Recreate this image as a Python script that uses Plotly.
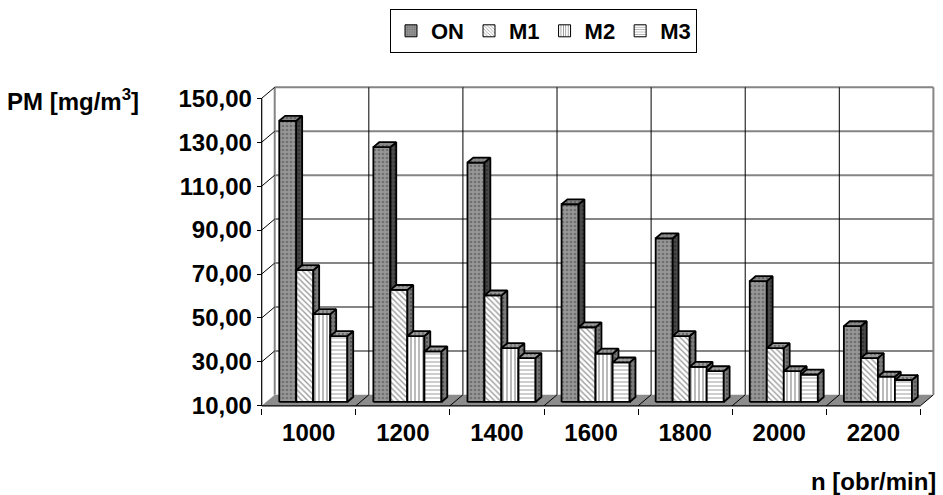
import plotly.graph_objects as go

# ---------------- data ----------------
categories = ["1000", "1200", "1400", "1600", "1800", "2000", "2200"]
series_names = ["ON", "M1", "M2", "M3"]
on_vals = [138, 126, 119, 100, 84.5, 65, 44.5]
m1_vals = [70, 61, 58.5, 44, 40, 34.5, 30]
m2_vals = [50, 40, 34.5, 32, 26, 24, 21.5]
m3_vals = [40, 33, 30, 28, 24, 22.5, 20]
y_ticks = [10, 30, 50, 70, 90, 110, 130, 150]
y_title = "PM [mg/m<sup>3</sup>]"
x_title = "n [obr/min]"

all_vals = [on_vals, m1_vals, m2_vals, m3_vals]

# ---------------- geometry / style ----------------
W, H = 943, 495
PX_X = 94.0        # px per category
PX_Y = 2.2         # px per y unit
X0_PX, Y10_PX = 262.0, 406.0
x_pad_l, x_pad_r = 0.05, 0.07
y_min, y_max = 9.0, 156.5
n = len(categories)
ymin_axis = y_ticks[0]
ymax_axis = y_ticks[-1]
dxw = 13.0 / PX_X          # wall depth in x units
dyw = 11.0 / PX_Y          # wall depth in y units
bw = 17.0 / PX_X           # bar width
f_front, f_depth = 0.35, 0.45
ddx, ddy = f_front * dxw, f_front * dyw
sdx, sdy = f_depth * dxw, f_depth * dyw

x_lo, x_hi = -x_pad_l, n + dxw + x_pad_r
L = X0_PX - x_pad_l * PX_X
R = X0_PX + (n + dxw + x_pad_r) * PX_X
B = Y10_PX + (ymin_axis - y_min) * PX_Y
T = Y10_PX - (y_max - ymin_axis) * PX_Y

FONT = "Liberation Sans, Arial, sans-serif"
OUT = 1.8
FS = 24

styles = {
    "ON": dict(front=dict(shape=".", bgcolor="#979797", fgcolor="#4a4a4a", size=4, solidity=0.35),
               side=dict(shape=".", bgcolor="#4a4a4a", fgcolor="#202020", size=4, solidity=0.35),
               top=dict(shape=".", bgcolor="#8a8a8a", fgcolor="#404040", size=4, solidity=0.35)),
    "M1": dict(front=dict(shape="\\", bgcolor="#ffffff", fgcolor="#3a3a3a", size=4, solidity=0.35),
               side=dict(shape=".", bgcolor="#7a7a7a", fgcolor="#303030", size=4, solidity=0.35),
               top=dict(shape=".", bgcolor="#9a9a9a", fgcolor="#404040", size=4, solidity=0.35)),
    "M2": dict(front=dict(shape="|", bgcolor="#ffffff", fgcolor="#1a1a1a", size=4, solidity=0.3),
               side=dict(shape=".", bgcolor="#7a7a7a", fgcolor="#303030", size=4, solidity=0.35),
               top=dict(shape="|", bgcolor="#9a9a9a", fgcolor="#404040", size=4, solidity=0.35)),
    "M3": dict(front=dict(shape="-", bgcolor="#ffffff", fgcolor="#5a5a5a", size=4, solidity=0.3),
               side=dict(shape=".", bgcolor="#7a7a7a", fgcolor="#303030", size=4, solidity=0.35),
               top=dict(shape=".", bgcolor="#a0a0a0", fgcolor="#404040", size=4, solidity=0.35)),
}

fig = go.Figure()


def seg_trace(xs, ys, color, width):
    fig.add_trace(go.Scatter(x=xs, y=ys, mode="lines", line=dict(color=color, width=width),
                             hoverinfo="skip", showlegend=False))


# floor
fig.add_trace(go.Scatter(x=[0, n, n + dxw, dxw, 0], y=[ymin_axis, ymin_axis, ymin_axis + dyw, ymin_axis + dyw, ymin_axis],
                         fill="toself", fillcolor="#8c8c8c", mode="lines", line=dict(width=0),
                         hoverinfo="skip", showlegend=False))

# back wall horizontal gridlines (gray)
gx, gy = [], []
for v in y_ticks[1:]:
    gx += [dxw, n + dxw, None]
    gy += [v + dyw, v + dyw, None]
seg_trace(gx, gy, "#858585", 2)

# back wall vertical gridlines (black)
vx, vy = [], []
for k in range(1, n):
    vx += [k + dxw, k + dxw, None]
    vy += [ymin_axis + dyw, ymax_axis + dyw, None]
seg_trace(vx, vy, "#000000", 1)

# wall edges (gray)
seg_trace([dxw, dxw, None, n + dxw, n + dxw],
          [ymin_axis + dyw, ymax_axis + dyw, None, ymin_axis + dyw, ymax_axis + dyw], "#858585", 2)

# diagonal connectors for y ticks and floor boundaries (black)
dx_, dy_ = [], []
for v in y_ticks[1:]:
    dx_ += [0, dxw, None]
    dy_ += [v, v + dyw, None]
for k in range(1, n + 1):
    dx_ += [k, k + dxw, None]
    dy_ += [ymin_axis, ymin_axis + dyw, None]
seg_trace(dx_, dy_, "#000000", 1)

# front axis lines
seg_trace([0, 0, None, 0, n], [ymax_axis, ymin_axis, None, ymin_axis, ymin_axis], "#000000", 1.2)

# bars (front, side, top) drawn per series in order
for j, (name, vals) in enumerate(zip(series_names, all_vals)):
    fx, fy, sx, sy, tx, ty = [], [], [], [], [], []
    for k, v in enumerate(vals):
        xl = k + 0.5 - 2 * bw + j * bw + ddx
        xr = xl + bw
        yb = ymin_axis + ddy
        yt = v + ddy
        fx += [xl, xr, xr, xl, xl, None]
        fy += [yb, yb, yt, yt, yb, None]
        sx += [xr, xr + sdx, xr + sdx, xr, xr, None]
        sy += [yb, yb + sdy, yt + sdy, yt, yb, None]
        tx += [xl, xr, xr + sdx, xl + sdx, xl, None]
        ty += [yt, yt, yt + sdy, yt + sdy, yt, None]
    st = styles[name]
    for xs, ys, key in ((fx, fy, "front"), (sx, sy, "side"), (tx, ty, "top")):
        pat = st[key]
        fig.add_trace(go.Scatter(x=xs, y=ys, mode="lines", fill="toself",
                                 fillcolor=pat["bgcolor"],
                                 fillpattern=dict(shape=pat["shape"], bgcolor=pat["bgcolor"],
                                                  fgcolor=pat["fgcolor"], size=pat["size"],
                                                  solidity=pat["solidity"]),
                                 line=dict(color="#000000", width=OUT),
                                 hoverinfo="skip", showlegend=False))

# legend-only bar traces
for name in series_names:
    pat = styles[name]["front"]
    fig.add_trace(go.Bar(x=[None], y=[None], name=name,
                         marker=dict(color=pat["bgcolor"], line=dict(color="#000000", width=1),
                                     pattern=dict(shape=pat["shape"], bgcolor=pat["bgcolor"],
                                                  fgcolor=pat["fgcolor"], size=3, solidity=0.35))))

pw = R - L
ph = B - T


def px_to_paper_x(px):
    return (px - L) / pw


def px_to_paper_y(py):
    return (B - py) / ph


fig.update_layout(
    width=W, height=H,
    margin=dict(l=L, r=W - R, t=T, b=H - B, pad=0),
    paper_bgcolor="white", plot_bgcolor="white",
    font=dict(family=FONT, size=FS, color="black", weight="bold"),
    separators=", ",
    showlegend=True,
    legend=dict(orientation="h", xref="container", yref="container",
                x=543.5 / W, y=1 - 9 / H, xanchor="center", yanchor="top",
                bordercolor="black", borderwidth=1, bgcolor="white",
                font=dict(family=FONT, size=22, color="black", weight="bold"),
                itemwidth=30, traceorder="normal"),
    xaxis=dict(range=[x_lo, x_hi], showgrid=False, zeroline=False, showline=False,
               tickmode="array", tickvals=[k + 0.5 for k in range(n)], ticktext=categories,
               ticks="", ticklabelstandoff=8,
               tickfont=dict(family=FONT, size=FS, color="black", weight="bold"),
               minor=dict(tickmode="linear", tick0=0, dtick=1, ticks="outside", ticklen=6,
                          tickwidth=1, tickcolor="black", showgrid=False),
               fixedrange=True),
    yaxis=dict(range=[y_min, y_max], showgrid=False, zeroline=False, showline=False,
               anchor="free", position=px_to_paper_x(X0_PX),
               tickmode="array", tickvals=y_ticks, tickformat=".2f",
               ticks="outside", ticklen=5, tickwidth=1, tickcolor="black",
               tickfont=dict(family=FONT, size=FS, color="black", weight="bold"),
               fixedrange=True),
    annotations=[
        dict(text=y_title, xref="paper", yref="paper", x=px_to_paper_x(6), y=px_to_paper_y(100),
             xanchor="left", yanchor="middle", showarrow=False,
             font=dict(family=FONT, size=FS, color="black", weight="bold")),
        dict(text=x_title, xref="paper", yref="paper", x=px_to_paper_x(938), y=px_to_paper_y(482),
             xanchor="right", yanchor="middle", showarrow=False,
             font=dict(family=FONT, size=FS, color="black", weight="bold")),
    ],
)

fig.write_html("out.html")
